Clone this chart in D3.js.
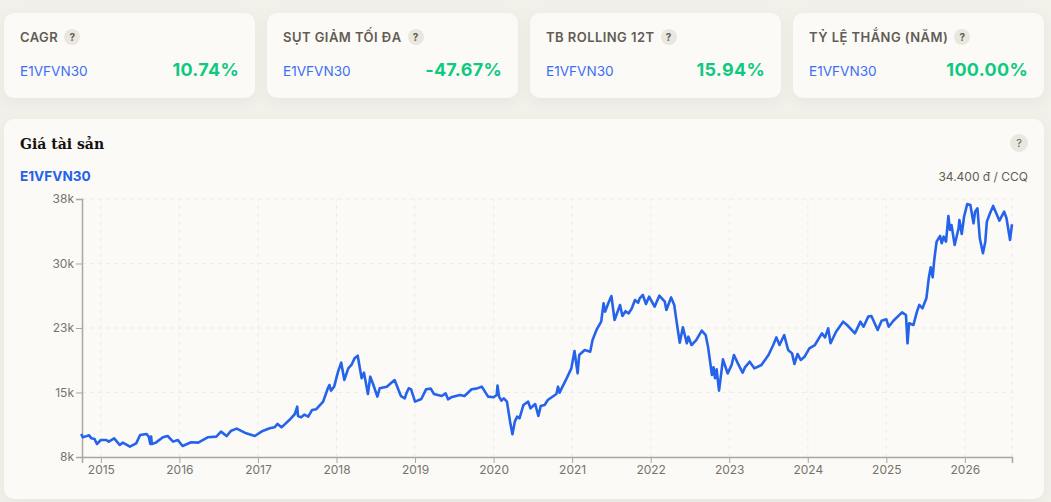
<!DOCTYPE html>
<html>
<head>
<meta charset="utf-8">
<script src="https://cdnjs.cloudflare.com/ajax/libs/d3/7.8.5/d3.min.js"></script>
<style>
  html, body { margin: 0; padding: 0; width: 1051px; height: 502px; overflow: hidden; background: #f1f0e9; font-family: Inter, sans-serif; }
  .card { position: absolute; background: #fbfaf6; border-radius: 10px; box-shadow: 0 4px 14px rgba(90, 85, 60, 0.05); box-sizing: border-box; }
  .stat-label { position: absolute; left: 16px; top: 15px; height: 18px; line-height: 18px; font-size: 13px; font-weight: 600; letter-spacing: 0.45px; color: #625c54; white-space: nowrap; display: flex; align-items: center; }
  .help { display: inline-block; width: 16px; height: 16px; line-height: 16px; border-radius: 50%; background: #e9e7df; color: #625c54; font-size: 10px; font-weight: 700; text-align: center; letter-spacing: 0; }
  .stat-label .help { margin-left: 6px; }
  .stat-name { position: absolute; left: 16px; top: 48px; line-height: 20px; font-size: 13.6px; color: #3b6ff5; }
  .stat-value { position: absolute; right: 16px; top: 45px; line-height: 24px; font-size: 18px; font-weight: 700; letter-spacing: 0.3px; color: #10c981; }
  svg { position: absolute; left: 0; top: 0; }
</style>
</head>
<body>
<script>
// stat cards
let stat_labels = ["CAGR", "SỤT GIẢM TỐI ĐA", "TB ROLLING 12T", "TỶ LỆ THẮNG (NĂM)"];
let stat_values = ["10.74%", "-47.67%", "15.94%", "100.00%"];
let asset_name = "E1VFVN30";

// price chart, years as decimal years, prices in thousands of dong
let price_years = [
  2014.75, 2014.77, 2014.80, 2014.85, 2014.88, 2014.92, 2014.95, 2015.00, 2015.07, 2015.10,
  2015.17, 2015.24, 2015.28, 2015.37, 2015.45, 2015.50, 2015.58, 2015.61, 2015.63, 2015.64,
  2015.65, 2015.70, 2015.79, 2015.85, 2015.92, 2015.98, 2016.04, 2016.15, 2016.24, 2016.36,
  2016.47, 2016.53, 2016.60, 2016.66, 2016.73, 2016.85, 2016.96, 2017.06, 2017.15, 2017.21,
  2017.25, 2017.30, 2017.40, 2017.47, 2017.50, 2017.51, 2017.55, 2017.59, 2017.64, 2017.69,
  2017.74, 2017.83, 2017.89, 2017.91, 2017.93, 2017.97, 2018.02, 2018.06, 2018.10, 2018.15,
  2018.19, 2018.23, 2018.27, 2018.32, 2018.35, 2018.40, 2018.43, 2018.47, 2018.52, 2018.55,
  2018.64, 2018.74, 2018.82, 2018.87, 2018.89, 2018.92, 2018.95, 2019.00, 2019.08, 2019.14,
  2019.20, 2019.24, 2019.34, 2019.39, 2019.42, 2019.46, 2019.57, 2019.63, 2019.72, 2019.78,
  2019.85, 2019.93, 2020.00, 2020.04, 2020.05, 2020.07, 2020.10, 2020.13, 2020.17, 2020.21,
  2020.24, 2020.27, 2020.30, 2020.33, 2020.38, 2020.44, 2020.47, 2020.53, 2020.57, 2020.60,
  2020.65, 2020.69, 2020.80, 2020.82, 2020.84, 2020.93, 2020.99, 2021.03, 2021.07, 2021.09,
  2021.16, 2021.23, 2021.26, 2021.31, 2021.37, 2021.40, 2021.42, 2021.46, 2021.50, 2021.54,
  2021.61, 2021.64, 2021.68, 2021.72, 2021.76, 2021.80, 2021.84, 2021.86, 2021.90, 2021.94, 2021.98, 2022.05,
  2022.11, 2022.18, 2022.20, 2022.26, 2022.30, 2022.33, 2022.37, 2022.41, 2022.46, 2022.48,
  2022.52, 2022.58, 2022.65, 2022.70, 2022.73, 2022.78, 2022.80, 2022.82, 2022.84, 2022.87,
  2022.89, 2022.92, 2022.98, 2023.03, 2023.06, 2023.11, 2023.17, 2023.20, 2023.26, 2023.32,
  2023.41, 2023.50, 2023.56, 2023.60, 2023.64, 2023.70, 2023.75, 2023.80, 2023.83, 2023.87,
  2023.91, 2023.96, 2024.02, 2024.09, 2024.18, 2024.22, 2024.26, 2024.29, 2024.36, 2024.45,
  2024.50, 2024.60, 2024.67, 2024.71, 2024.77, 2024.81, 2024.89, 2024.94, 2025.00, 2025.03,
  2025.09, 2025.20, 2025.25, 2025.27, 2025.29, 2025.345, 2025.39, 2025.42, 2025.46, 2025.51,
  2025.54, 2025.565, 2025.59, 2025.61, 2025.64, 2025.685, 2025.705, 2025.73, 2025.76, 2025.79,
  2025.81, 2025.83, 2025.87, 2025.92, 2025.93, 2025.96, 2025.99, 2026.03, 2026.07, 2026.11,
  2026.13, 2026.16, 2026.19, 2026.23, 2026.26, 2026.28, 2026.32, 2026.36, 2026.44, 2026.50,
  2026.53, 2026.575, 2026.60
];
let price_values = [
  10.68, 10.29, 10.37, 10.52, 10.17, 10.10, 9.51, 9.98, 9.98, 9.79,
  10.17, 9.40, 9.67, 9.20, 9.59, 10.56, 10.68, 10.37, 9.51, 10.37,
  9.51, 9.67, 10.29, 10.44, 9.79, 9.98, 9.28, 9.71, 9.67, 10.29,
  10.37, 10.95, 10.44, 11.06, 11.30, 10.75, 10.44, 11.03, 11.34, 11.45,
  11.84, 11.45, 12.30, 13.00, 13.85, 12.77, 12.61, 12.92, 12.69, 13.47,
  13.55, 14.44, 15.99, 16.37, 15.72, 16.18, 17.93, 18.97, 16.96, 18.31,
  18.70, 19.47, 19.78, 17.15, 17.81, 15.33, 17.34, 16.37, 15.02, 15.99,
  16.18, 16.95, 15.09, 14.82, 15.40, 15.99, 15.87, 14.44, 14.75, 15.87,
  15.95, 15.33, 15.09, 15.40, 14.71, 14.94, 15.21, 15.09, 15.87, 15.95,
  16.18, 15.02, 14.94, 15.21, 16.30, 15.02, 14.55, 14.82, 14.44, 12.11,
  10.64, 12.11, 12.69, 12.50, 14.05, 14.44, 13.66, 14.16, 12.77, 13.93,
  14.05, 14.63, 15.33, 16.18, 15.48, 17.15, 18.31, 20.33, 17.73, 19.86,
  20.44, 20.25, 21.61, 22.77, 23.74, 25.87, 24.90, 25.87, 26.72, 23.93,
  25.67, 24.39, 24.95, 24.70, 25.29, 26.25, 25.94, 26.45, 26.84, 25.79, 26.64, 25.48,
  26.76, 26.06, 25.09, 26.56, 25.67, 23.74, 21.29, 23.08, 21.22, 21.99,
  21.02, 21.60, 22.69, 22.18, 20.83, 17.53, 18.42, 17.15, 18.19, 15.71,
  17.15, 19.36, 17.73, 18.70, 19.86, 18.89, 17.80, 18.42, 19.08, 18.31,
  18.70, 19.86, 21.02, 21.91, 21.02, 22.18, 20.44, 20.05, 18.81, 19.98,
  19.28, 19.67, 20.63, 21.02, 22.38, 21.91, 22.96, 21.22, 22.57, 23.74,
  23.35, 22.38, 23.74, 23.15, 24.32, 24.39, 22.77, 23.85, 24.01, 23.15,
  23.85, 24.82, 24.51, 21.22, 23.55, 23.35, 24.90, 25.68, 25.29, 26.45,
  28.78, 30.06, 28.89, 30.91, 33.04, 33.70, 32.85, 33.62, 33.04, 36.03,
  34.40, 34.98, 32.65, 34.59, 35.56, 33.93, 35.95, 37.42, 37.31, 35.17,
  36.53, 36.92, 33.43, 31.69, 33.04, 35.37, 36.34, 37.19, 35.48, 36.53,
  35.76, 33.24, 35.06
];
let year_ticks = [2015, 2016, 2017, 2018, 2019, 2020, 2021, 2022, 2023, 2024, 2025, 2026];
let price_ticks = [8, 15.5, 23, 30.5, 38];
let price_tick_labels = ["8k", "15k", "23k", "30k", "38k"];

let prices = price_years.map(function(year, i) {
  return { year: year, value: price_values[i] };
});

let body = d3.select("body");

// main panel goes first so the svg sits on top of it
body
  .append("div")
  .attr("class", "card")
  .style("left", "4px")
  .style("top", "119px")
  .style("width", "1040px")
  .style("height", "380px");

stat_labels.forEach(function(label, i) {
  let card = body
    .append("div")
    .attr("class", "card")
    .style("left", 4 + i * 263 + "px")
    .style("top", "13px")
    .style("width", "251px")
    .style("height", "85px");
  let head = card.append("div").attr("class", "stat-label");
  head.append("span").text(label);
  head.append("span").attr("class", "help").text("?");
  card.append("div").attr("class", "stat-name").text(asset_name);
  card.append("div").attr("class", "stat-value").text(stat_values[i]);
});

let svg = body
  .append("svg")
  .attr("width", 1051)
  .attr("height", 502);

svg
  .append("text")
  .text("Giá tài sản")
  .attr("x", 20)
  .attr("y", 149)
  .style("font-family", "'DejaVu Serif', serif")
  .style("font-weight", 700)
  .style("font-size", "14px")
  .style("fill", "#14120f");

svg
  .append("circle")
  .attr("cx", 1019)
  .attr("cy", 143)
  .attr("r", 9)
  .style("fill", "#e9e7df");
svg
  .append("text")
  .text("?")
  .attr("x", 1019)
  .attr("y", 147)
  .attr("text-anchor", "middle")
  .style("font-size", "11px")
  .style("fill", "#625c54");

svg
  .append("text")
  .text(asset_name)
  .attr("x", 20)
  .attr("y", 181)
  .style("font-weight", 700)
  .style("font-size", "13.6px")
  .style("fill", "#2563eb");

svg
  .append("text")
  .text("34.400 đ / CCQ")
  .attr("x", 1028)
  .attr("y", 181)
  .attr("text-anchor", "end")
  .style("font-size", "12px")
  .style("fill", "#625c54");

let x = d3
  .scaleLinear()
  .domain([2014.76, 2026.6])
  .range([82, 1012]);
let y = d3
  .scaleLinear()
  .domain([8, 38])
  .range([457, 199]);

// dashed grid
let grid = svg.append("g");
grid
  .selectAll("line.h")
  .data(price_ticks)
  .enter()
  .append("line")
  .attr("x1", x.range()[0])
  .attr("x2", x.range()[1])
  .attr("y1", d => y(d))
  .attr("y2", d => y(d));
grid
  .selectAll("line.v")
  .data(year_ticks.concat([x.domain()[1]]))
  .enter()
  .append("line")
  .attr("x1", d => x(d))
  .attr("x2", d => x(d))
  .attr("y1", y.range()[0])
  .attr("y2", y.range()[1]);
grid
  .selectAll("line")
  .style("stroke", "#eeece6")
  .style("stroke-width", 1)
  .style("stroke-dasharray", "4 4");

let x_axis = svg
  .append("g")
  .attr("transform", "translate(0," + y.range()[0] + ")")
  .call(
    d3
      .axisBottom(x)
      .tickValues(year_ticks)
      .tickFormat(d3.format("d"))
      .tickSize(6)
      .tickPadding(2)
  );
let y_axis = svg
  .append("g")
  .attr("transform", "translate(" + x.range()[0] + ",0)")
  .call(
    d3
      .axisLeft(y)
      .tickValues(price_ticks)
      .tickFormat((d, i) => price_tick_labels[i])
      .tickSize(6)
      .tickPadding(2)
  );

[x_axis, y_axis].forEach(function(axis) {
  axis.select(".domain").style("stroke", "#a9a7a1").style("stroke-width", 1.5);
  axis.selectAll(".tick line").style("stroke", "#a9a7a1");
  axis
    .selectAll(".tick text")
    .style("font-family", "Inter, sans-serif")
    .style("font-size", "12px")
    .style("fill", "#77736c");
});

let line = d3
  .line()
  .x(d => x(d.year))
  .y(d => y(d.value));

svg
  .append("path")
  .datum(prices)
  .attr("d", line)
  .style("fill", "none")
  .style("stroke", "#2563eb")
  .style("stroke-width", 2.6)
  .style("stroke-linejoin", "round");
</script>
</body>
</html>
